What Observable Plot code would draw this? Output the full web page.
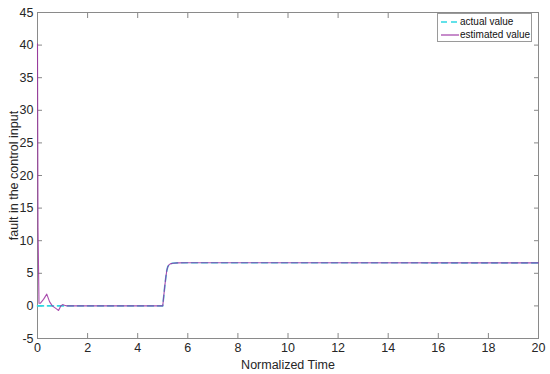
<!DOCTYPE html>
<html>
<head>
<meta charset="utf-8">
<script src="https://cdn.jsdelivr.net/npm/d3@7"></script>
<script src="https://cdn.jsdelivr.net/npm/@observablehq/plot@0.6"></script>
<style>
  html, body { margin: 0; padding: 0; background: #fff; }
  #wrap { position: relative; width: 550px; height: 374px; font-family: "Liberation Sans", Arial, sans-serif; }
  #legend { position: absolute; left: 437px; top: 13px; width: 95px; height: 29px; border: 1px solid #9a9a9a; background: #fff; font-size: 10px; color: #111; box-sizing: border-box; }
  #legend .row { position: absolute; left: 2px; height: 12px; line-height: 12px; white-space: nowrap; }
  #legend svg { vertical-align: middle; }
</style>
</head>
<body>
<div id="wrap"></div>
<script>
// Actual fault value
const actualTime  = [0, 5.0, 5.04, 5.08, 5.12, 5.16, 5.2, 5.25, 5.3, 5.4, 5.6, 6, 20];
const actualValue = [0, 0, 1.5, 3.0, 4.3, 5.4, 6.0, 6.3, 6.45, 6.55, 6.6, 6.62, 6.6];
// Estimated fault value
const estTime  = [0, 0.02, 0.06, 0.11, 0.24, 0.37, 0.48, 0.59, 0.77, 0.84, 0.93, 1.0, 1.08, 1.17, 5.0, 5.04, 5.08, 5.12, 5.16, 5.2, 5.25, 5.3, 5.4, 5.6, 6, 20];
const estValue = [40.2, 12, 0.4, 0.4, 1.0, 1.8, 0.65, 0.0, -0.5, -0.7, 0.0, 0.2, 0.1, 0.0, 0, 1.5, 3.0, 4.3, 5.4, 6.0, 6.3, 6.45, 6.55, 6.6, 6.62, 6.6];

const xTicks = [0, 2, 4, 6, 8, 10, 12, 14, 16, 18, 20];
const yTicks = [-5, 0, 5, 10, 15, 20, 25, 30, 35, 40, 45];
const seriesNames = ["actual value", "estimated value"];

const actual = actualTime.map((t, i) => ({t, v: actualValue[i]}));
const est = estTime.map((t, i) => ({t, v: estValue[i]}));

const fmt = d => String(d);

const chart = Plot.plot({
  width: 550,
  height: 374,
  marginLeft: 37,
  marginRight: 12,
  marginTop: 12,
  marginBottom: 36,
  style: {fontFamily: "Liberation Sans, Arial, sans-serif", fontSize: "12px", color: "#262626", background: "#fff"},
  x: {domain: [0, 20]},
  y: {domain: [-5, 45]},
  marks: [
    Plot.axisX({ticks: xTicks, tickFormat: fmt, tickSize: 0, tickPadding: 5, fontSize: 12.5, label: "Normalized Time", labelAnchor: "center", labelArrow: "none", labelOffset: 30}),
    Plot.axisX({ticks: xTicks, tickSize: -5, tickFormat: () => "", label: null, stroke: "#888"}),
    Plot.axisX({anchor: "top", ticks: xTicks, tickSize: -5, tickFormat: () => "", label: null, stroke: "#888"}),
    Plot.axisY({ticks: yTicks, tickFormat: fmt, tickSize: 0, tickPadding: 4, fontSize: 12.5, label: "fault in the control input", labelAnchor: "center", labelArrow: "none", labelOffset: 28}),
    Plot.axisY({ticks: yTicks, tickSize: -5, tickFormat: () => "", label: null, stroke: "#888"}),
    Plot.axisY({anchor: "right", ticks: yTicks, tickSize: -5, tickFormat: () => "", label: null, stroke: "#888"}),
    Plot.frame({stroke: "#8a8a8a"}),
    Plot.line(actual, {x: "t", y: "v", stroke: "#2fd8e2", strokeWidth: 1.6, strokeDasharray: "6,4"}),
    Plot.line(est, {x: "t", y: "v", stroke: "#9a2ea0", strokeWidth: 1.1, strokeOpacity: 0.85})
  ]
});

const wrap = document.getElementById("wrap");
wrap.appendChild(chart);

const legend = document.createElement("div");
legend.id = "legend";
const styles = [
  {stroke: "#2fd8e2", dash: "6,4", w: 1.6},
  {stroke: "#9a2ea0", dash: null, w: 1.1}
];
seriesNames.forEach((name, i) => {
  const row = document.createElement("div");
  row.className = "row";
  row.style.top = (2 + i * 13) + "px";
  const s = styles[i];
  row.innerHTML = `<svg width="20" height="12"><line x1="1" y1="6" x2="19" y2="6" stroke="${s.stroke}" stroke-width="${s.w}" ${s.dash ? `stroke-dasharray="${s.dash}"` : ""}/></svg><span>${name}</span>`;
  legend.appendChild(row);
});
wrap.appendChild(legend);
</script>
</body>
</html>
